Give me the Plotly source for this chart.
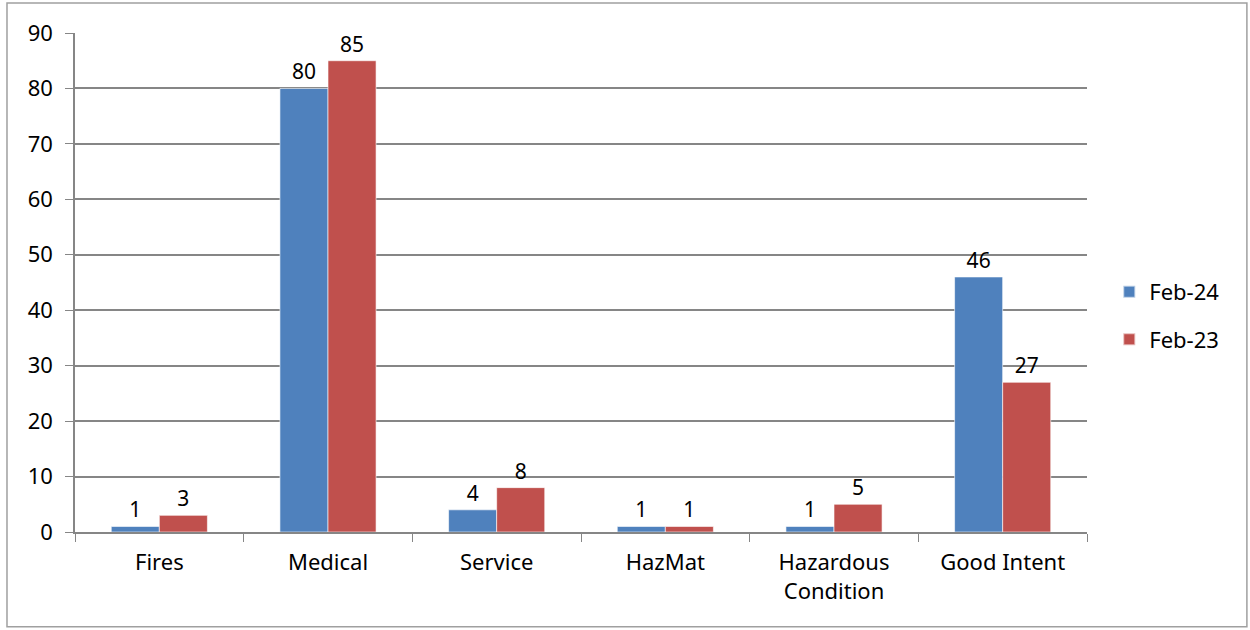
import plotly.graph_objects as go

categories = ["Fires", "Medical", "Service", "HazMat", "Hazardous<br>Condition", "Good Intent"]
feb24 = [1, 80, 4, 1, 1, 46]
feb23 = [3, 85, 8, 1, 5, 27]
series_names = ["Feb-24", "Feb-23"]
y_ticks = [0, 10, 20, 30, 40, 50, 60, 70, 80, 90]

FONT = "Noto Sans"
fig = go.Figure()
for i, (name, vals, color) in enumerate([(series_names[0], feb24, "#4F81BD"), (series_names[1], feb23, "#C0504D")]):
    fig.add_trace(go.Bar(
        name=name, x=categories, y=vals, legendgroup=f"g{i}",
        marker=dict(color=color, line=dict(color="rgba(255,255,255,0.6)", width=1)),
        text=[str(v) for v in vals], textposition="outside",
        textfont=dict(family=FONT, size=21, color="#000000"),
        cliponaxis=False,
    ))

fig.update_layout(
    width=1250, height=630,
    margin=dict(l=75, r=163, t=33, b=98),
    paper_bgcolor="white", plot_bgcolor="white",
    barmode="group", bargap=0.43, bargroupgap=0,
    font=dict(family=FONT, size=22, color="#000000"),
    showlegend=True,
    legend=dict(x=1.022, y=0.433, xanchor="left", yanchor="middle",
                font=dict(family=FONT, size=22), tracegroupgap=16, itemsizing="constant"),
    xaxis=dict(showline=True, linecolor="#868686", linewidth=1.5,
               ticks="outside", ticklen=8, tickcolor="#868686", tickson="boundaries",
               ticklabelstandoff=10,
               tickfont=dict(family=FONT, size=22), showgrid=False),
    yaxis=dict(range=[0, 90], tickvals=y_ticks, showline=True, linecolor="#868686", linewidth=1.5,
               ticks="outside", ticklen=8, tickcolor="#868686", ticklabelstandoff=8,
               gridcolor="#868686", gridwidth=1.5, zeroline=False,
               tickfont=dict(family=FONT, size=22)),
    shapes=[dict(type="rect", xref="paper", yref="paper",
                 x0=-0.0672, x1=1.158, y0=-0.19, y1=1.06,
                 line=dict(color="#A0A0A0", width=1.5), fillcolor="rgba(0,0,0,0)", layer="below")],
)
fig.write_html("out.html", config={"displayModeBar": False},
               post_script="document.body.style.margin='0';document.body.style.overflow='hidden';")
